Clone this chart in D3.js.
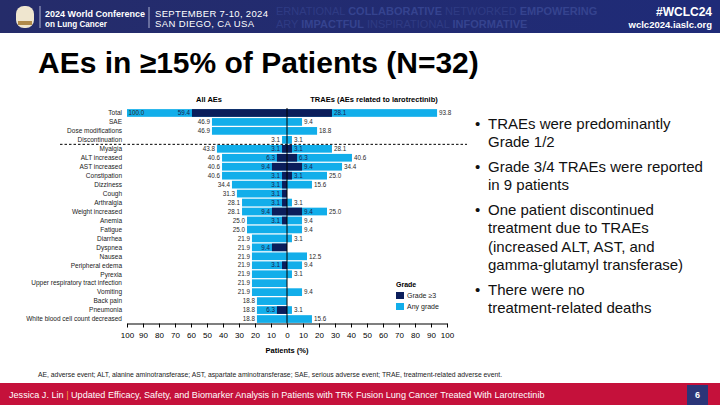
<!DOCTYPE html>
<html>
<head>
<meta charset="utf-8">
<script src="https://cdn.jsdelivr.net/npm/d3@7"></script>
<style>
  body { margin: 0; background: #fff; }
  svg { display: block; font-family: "Liberation Sans", Arial, sans-serif; }
</style>
</head>
<body>
<div class="slide"></div>
<script>
// rows of the butterfly chart, top to bottom
var categories = ["Total", "SAE", "Dose modifications", "Discontinuation", "Myalgia", "ALT increased",
    "AST increased", "Constipation", "Dizziness", "Cough", "Arthralgia", "Weight increased", "Anemia",
    "Fatigue", "Diarrhea", "Dyspnea", "Nausea", "Peripheral edema", "Pyrexia",
    "Upper respiratory tract infection", "Vomiting", "Back pain", "Pneumonia", "White blood cell count decreased"];
// All AEs (left)
var allAny = [100.0, 46.9, 46.9, 3.1, 43.8, 40.6, 40.6, 40.6, 34.4, 31.3, 28.1, 28.1, 25.0,
    25.0, 21.9, 21.9, 21.9, 21.9, 21.9, 21.9, 21.9, 18.8, 18.8, 18.8];
var allG3 = [59.4, null, null, null, 3.1, 6.3, 9.4, 3.1, 3.1, 3.1, 3.1, 9.4, 3.1,
    null, null, 9.4, null, 3.1, null, null, null, null, 6.3, null];
// TRAEs (right)
var trAny = [93.8, 9.4, 18.8, 3.1, 28.1, 40.6, 34.4, 25.0, 15.6, null, 3.1, 25.0, 9.4,
    9.4, 3.1, null, 12.5, 9.4, 3.1, null, 9.4, null, 3.1, 15.6];
var trG3 = [28.1, null, null, null, 3.1, 6.3, 9.4, 3.1, null, null, null, 9.4, null,
    null, null, null, null, null, null, null, null, null, null, null];
var tickValues = [-100, -90, -80, -70, -60, -50, -40, -30, -20, -10, 0, 10, 20, 30, 40, 50, 60, 70, 80, 90, 100];
var legendItems = ["Grade \u22653", "Any grade"];

var bullets = [
    ["TRAEs were predominantly", "Grade 1/2"],
    ["Grade 3/4 TRAEs were reported", "in 9 patients"],
    ["One patient discontinued", "treatment due to TRAEs", "(increased ALT, AST, and", "gamma-glutamyl transferase)"],
    ["There were no", "treatment-related deaths"]
];

var lightBlue = "#12AEEA",
    navy = "#0B1E5B",
    labelColor = "#2a2a2a";

var W = 720, H = 405;
var svg = d3.select(".slide").append("svg").attr("width", W).attr("height", H);

// ---- header banner
var defs = svg.append("defs");
var grad = defs.append("linearGradient").attr("id", "band");
grad.append("stop").attr("offset", "0%").attr("stop-color", "#252c6a");
grad.append("stop").attr("offset", "100%").attr("stop-color", "#1f2b78");
svg.append("rect").attr("width", W).attr("height", 33).attr("fill", "url(#band)");

// faint slogan words behind the banner
var faint = svg.append("g").attr("fill", "#2f3b84").style("font-size", "11px");
var f1 = faint.append("text").attr("x", 276).attr("y", 15);
f1.append("tspan").text("ERNATIONAL ");
f1.append("tspan").style("font-weight", "bold").attr("fill", "#35438f").text("COLLABORATIVE ");
f1.append("tspan").text("NETWORKED ");
f1.append("tspan").style("font-weight", "bold").attr("fill", "#35438f").text("EMPOWERING");
var f2 = faint.append("text").attr("x", 276).attr("y", 28);
f2.append("tspan").text("ARY ");
f2.append("tspan").style("font-weight", "bold").attr("fill", "#35438f").text("IMPACTFUL ");
f2.append("tspan").text("INSPIRATIONAL ");
f2.append("tspan").style("font-weight", "bold").attr("fill", "#35438f").text("INFORMATIVE");

svg.append("rect").attr("x", 16).attr("y", 6).attr("width", 18).attr("height", 22).attr("rx", 8).attr("fill", "#efe6cf");
svg.append("rect").attr("x", 18).attr("y", 21).attr("width", 14).attr("height", 4).attr("fill", "#b08a4a");
svg.append("line").attr("x1", 40).attr("x2", 40).attr("y1", 6).attr("y2", 28).attr("stroke", "#cfd3ea").attr("stroke-width", 0.8);

var head = svg.append("g").attr("fill", "#fff").style("font-size", "9.5px");
head.append("text").attr("x", 45).attr("y", 16.5).style("font-weight", "bold")
    .attr("textLength", 100).attr("lengthAdjust", "spacingAndGlyphs").text("2024 World Conference");
head.append("text").attr("x", 45).attr("y", 26.5).style("font-weight", "bold")
    .attr("textLength", 62).attr("lengthAdjust", "spacingAndGlyphs").text("on Lung Cancer");
head.append("line").attr("x1", 149).attr("x2", 149).attr("y1", 7).attr("y2", 28).attr("stroke", "#cfd3ea").attr("stroke-width", 0.8);
head.append("text").attr("x", 155).attr("y", 16.5)
    .attr("textLength", 113).attr("lengthAdjust", "spacing").text("SEPTEMBER 7-10, 2024");
head.append("text").attr("x", 155).attr("y", 26.5)
    .attr("textLength", 99).attr("lengthAdjust", "spacing").text("SAN DIEGO, CA USA");
head.append("text").attr("x", 712).attr("y", 15.5).attr("text-anchor", "end")
    .style("font-weight", "bold").style("font-size", "12px").text("#WCLC24");
head.append("text").attr("x", 712).attr("y", 28).attr("text-anchor", "end")
    .style("font-weight", "bold").style("font-size", "9.5px").text("wclc2024.iaslc.org");

// ---- title
svg.append("text").attr("x", 38).attr("y", 73)
    .style("font-weight", "bold").style("font-size", "30px").attr("fill", "#000")
    .text("AEs in \u226515% of Patients (N=32)");

// ---- chart
var x = d3.scaleLinear().domain([-100, 100]).range([127, 447]);
var y = d3.scaleBand().domain(categories).range([108.5, 323.5]).paddingInner(0.14).paddingOuter(0.07);

var rows = categories.map(function (c, i) {
    return { name: c, allAny: allAny[i], allG3: allG3[i], trAny: trAny[i], trG3: trG3[i] };
});

var chart = svg.append("g");

// any grade bars
chart.selectAll(".lAny").data(rows.filter(function (d) { return d.allAny != null; }))
    .enter().append("rect")
    .attr("x", function (d) { return x(-d.allAny); })
    .attr("y", function (d) { return y(d.name); })
    .attr("width", function (d) { return x(0) - x(-d.allAny); })
    .attr("height", y.bandwidth())
    .attr("fill", lightBlue);
chart.selectAll(".rAny").data(rows.filter(function (d) { return d.trAny != null; }))
    .enter().append("rect")
    .attr("x", x(0))
    .attr("y", function (d) { return y(d.name); })
    .attr("width", function (d) { return x(d.trAny) - x(0); })
    .attr("height", y.bandwidth())
    .attr("fill", lightBlue);
// grade >=3 bars
chart.selectAll(".lG3").data(rows.filter(function (d) { return d.allG3 != null; }))
    .enter().append("rect")
    .attr("x", function (d) { return x(-d.allG3); })
    .attr("y", function (d) { return y(d.name); })
    .attr("width", function (d) { return x(0) - x(-d.allG3); })
    .attr("height", y.bandwidth())
    .attr("fill", navy);
chart.selectAll(".rG3").data(rows.filter(function (d) { return d.trG3 != null; }))
    .enter().append("rect")
    .attr("x", x(0))
    .attr("y", function (d) { return y(d.name); })
    .attr("width", function (d) { return x(d.trG3) - x(0); })
    .attr("height", y.bandwidth())
    .attr("fill", navy);

// value labels
var lab = chart.append("g").style("font-size", "6.3px").attr("fill", labelColor);
function mid(d) { return y(d.name) + y.bandwidth() / 2 + 2.2; }
lab.selectAll(".lAnyT").data(rows.filter(function (d) { return d.allAny != null; }))
    .enter().append("text")
    .attr("x", function (d) { return d.allAny >= 100 ? x(-d.allAny) + 1.5 : x(-d.allAny) - 2; })
    .attr("y", mid)
    .attr("text-anchor", function (d) { return d.allAny >= 100 ? "start" : "end"; })
    .text(function (d) { return d.allAny.toFixed(1); });
lab.selectAll(".lG3T").data(rows.filter(function (d) { return d.allG3 != null; }))
    .enter().append("text")
    .attr("x", function (d) { return x(-d.allG3) - 2; })
    .attr("y", mid)
    .attr("text-anchor", "end")
    .attr("fill", "#1a2350")
    .text(function (d) { return d.allG3.toFixed(1); });
lab.selectAll(".rAnyT").data(rows.filter(function (d) { return d.trAny != null; }))
    .enter().append("text")
    .attr("x", function (d) { return x(d.trAny) + 2; })
    .attr("y", mid)
    .text(function (d) { return d.trAny.toFixed(1); });
lab.selectAll(".rG3T").data(rows.filter(function (d) { return d.trG3 != null; }))
    .enter().append("text")
    .attr("x", function (d) { return x(d.trG3) + 2; })
    .attr("y", mid)
    .attr("fill", "#1a2350")
    .text(function (d) { return d.trG3.toFixed(1); });

// category names
chart.append("g").style("font-size", "6.5px").attr("fill", "#1a1a1a")
    .selectAll("text").data(categories).enter().append("text")
    .attr("x", 122)
    .attr("y", function (d) { return y(d) + y.bandwidth() / 2 + 2.3; })
    .attr("text-anchor", "end")
    .text(function (d) { return d; });

// center line and divider
chart.append("line").attr("x1", x(0)).attr("x2", x(0)).attr("y1", 108).attr("y2", 323.5)
    .attr("stroke", "#000").attr("stroke-width", 1);
var divY = (y("Discontinuation") + y.bandwidth() + y("Myalgia")) / 2;
chart.append("line").attr("x1", 60).attr("x2", 467).attr("y1", divY).attr("y2", divY)
    .attr("stroke", "#000").attr("stroke-width", 1).attr("stroke-dasharray", "2.5,2");

// axis
var axis = chart.append("g").attr("transform", "translate(0,323.5)")
    .call(d3.axisBottom(x).tickValues(tickValues).tickSize(4).tickSizeOuter(0)
        .tickFormat(function (d) { return Math.abs(d); }));
axis.select(".domain").attr("stroke", "#000").attr("stroke-width", 1.2);
axis.selectAll(".tick line").attr("stroke", "#000");
axis.selectAll(".tick text").attr("fill", "#000").attr("dy", "0.9em")
    .style("font-size", "8px").style("font-family", "Liberation Sans, Arial, sans-serif");

chart.append("text").attr("x", x(0)).attr("y", 353).attr("text-anchor", "middle")
    .style("font-weight", "bold").style("font-size", "7.5px").text("Patients (%)");
chart.append("text").attr("x", 209).attr("y", 102).attr("text-anchor", "middle")
    .style("font-weight", "bold").style("font-size", "7.5px").text("All AEs");
chart.append("text").attr("x", 374).attr("y", 102).attr("text-anchor", "middle")
    .style("font-weight", "bold").style("font-size", "7.5px").text("TRAEs (AEs related to larotrectinib)");

// legend
var leg = chart.append("g").attr("transform", "translate(396,280)");
leg.append("text").attr("x", 0).attr("y", 7).style("font-weight", "bold").style("font-size", "7px").text("Grade");
var li = leg.selectAll(".li").data(legendItems).enter().append("g")
    .attr("transform", function (d, i) { return "translate(0," + (12 + i * 11) + ")"; });
li.append("rect").attr("width", 8).attr("height", 7)
    .attr("fill", function (d, i) { return i === 0 ? navy : lightBlue; });
li.append("text").attr("x", 11).attr("y", 6).style("font-size", "7px").attr("fill", "#222")
    .text(function (d) { return d; });

// ---- bullets
var bl = svg.append("g").style("font-size", "15px").attr("fill", "#111");
var by = 128.5;
bullets.forEach(function (lines) {
    bl.append("text").attr("x", 475).attr("y", by).text("\u2022");
    lines.forEach(function (t, k) {
        bl.append("text").attr("x", 488).attr("y", by + k * 18.5).text(t);
    });
    by += (lines.length - 1) * 18.5 + 24.5;
});

// ---- footnote
svg.append("text").attr("x", 38).attr("y", 377).style("font-size", "6.8px").attr("fill", "#222")
    .text("AE, adverse event; ALT, alanine aminotransferase; AST, aspartate aminotransferase; SAE, serious adverse event; TRAE, treatment-related adverse event.");

// ---- footer
svg.append("rect").attr("x", 0).attr("y", 383).attr("width", W).attr("height", 22).attr("fill", "#C5113B");
svg.append("rect").attr("x", 687).attr("y", 385).attr("width", 21).attr("height", 20).attr("fill", "#2b3578");
svg.append("text").attr("x", 697.5).attr("y", 398).attr("text-anchor", "middle")
    .style("font-weight", "bold").style("font-size", "9px").attr("fill", "#fff").text("6");
var ft = svg.append("text").attr("x", 9).attr("y", 397.5).style("font-size", "9.1px").attr("fill", "#fff");
ft.append("tspan").text("Jessica J. Lin ");
ft.append("tspan").attr("fill", "#f2a33a").text("|");
ft.append("tspan").text("  Updated Efficacy, Safety, and Biomarker Analysis in Patients with TRK Fusion Lung Cancer Treated With Larotrectinib");
</script>
</body>
</html>
